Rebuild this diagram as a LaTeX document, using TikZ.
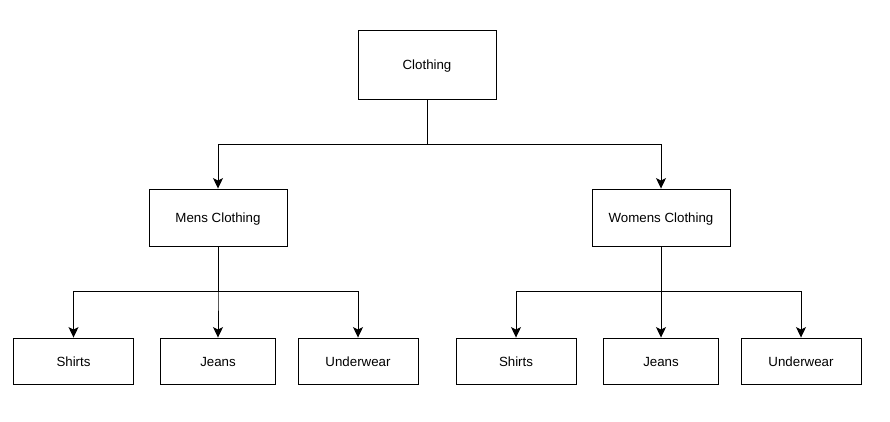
\documentclass[tikz,border=0pt]{standalone}
\usepackage{fontspec}
\setmainfont{Liberation Sans}
\usepackage{tikz}
\usetikzlibrary{trees, arrows.meta}

\tikzset{
  basebox/.style={draw, line width=0.9pt, font=\fontsize{13.3}{16}\selectfont, text height=10pt, text depth=0pt, inner sep=2pt},
  topbox/.style={basebox, minimum width=138pt, minimum height=69pt},
  midbox/.style={basebox, minimum width=138pt, minimum height=57pt},
  leafbox/.style={basebox, minimum width=120pt, minimum height=46pt},
  edge from parent/.style={draw, line width=1pt, -{Stealth[length=10.5pt, width=10pt, inset=2.5pt]}},
  edge from parent path={(\tikzparentnode.south) -- +(0pt,-45.5pt) -| (\tikzchildnode.north)}
}

\begin{document}
\begin{tikzpicture}[level 1/.style={level distance=153pt}, level 2/.style={level distance=143.5pt}]
        \useasboundingbox (0pt,0pt) rectangle (890pt,-421pt);
        \node[topbox] (clothing) at (427pt,-64.5pt) {Clothing}
            child[sibling distance=418pt] {
              node[midbox] (mens) {Mens Clothing}
              child[sibling distance=144.5pt] {node[leafbox] (mshirts) {Shirts}}
              child {node[leafbox, minimum width=114.5pt] (mjeans) {Jeans}}
              child[sibling distance=140pt] {node[leafbox] (munder) {Underwear}}
            }
            child[sibling distance=468pt] {
              node[midbox] (womens) {Womens Clothing}
              child[sibling distance=145pt] {node[leafbox] (wshirts) {Shirts}}
              child {node[leafbox, minimum width=114.5pt] (wjeans) {Jeans}}
              child[sibling distance=140pt] {node[leafbox] (wunder) {Underwear}}
            };
    \end{tikzpicture}
\end{document}
